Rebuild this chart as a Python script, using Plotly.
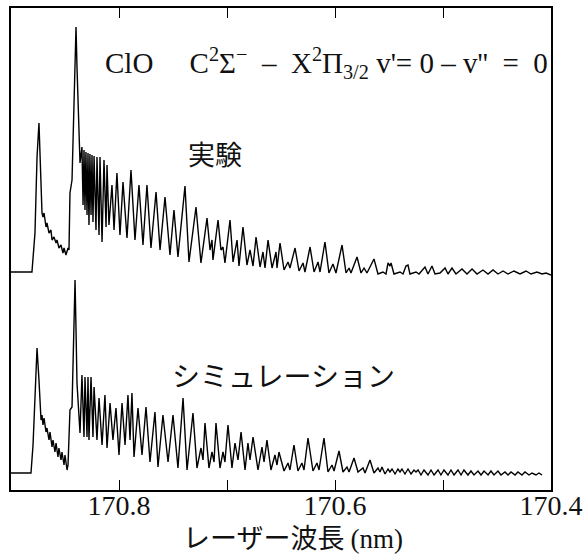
import plotly.graph_objects as go

# ---- Experiment (実験): laser wavelength (nm) and signal (a.u.) ----
exp_wavelength = [
    170.9000, 170.8806, 170.8778, 170.8759, 170.8741, 170.8731, 170.8713, 170.8704, 170.8694, 170.8676,
    170.8667, 170.8648, 170.8630, 170.8620, 170.8602, 170.8583, 170.8574, 170.8556, 170.8537, 170.8519,
    170.8509, 170.8491, 170.8472, 170.8463, 170.8454, 170.8435, 170.8417, 170.8398, 170.8389, 170.8370,
    170.8361, 170.8343, 170.8333, 170.8324, 170.8315, 170.8306, 170.8296, 170.8287, 170.8278, 170.8269,
    170.8259, 170.8250, 170.8241, 170.8231, 170.8213, 170.8204, 170.8185, 170.8176, 170.8157, 170.8139,
    170.8120, 170.8111, 170.8093, 170.8065, 170.8046, 170.8019, 170.7991, 170.7963, 170.7926, 170.7889,
    170.7852, 170.7815, 170.7778, 170.7741, 170.7704, 170.7657, 170.7620, 170.7574, 170.7528, 170.7491,
    170.7454, 170.7389, 170.7352, 170.7287, 170.7241, 170.7185, 170.7157, 170.7139, 170.7130, 170.7083,
    170.7056, 170.7037, 170.7019, 170.6972, 170.6944, 170.6907, 170.6889, 170.6852, 170.6815, 170.6787,
    170.6759, 170.6731, 170.6694, 170.6667, 170.6648, 170.6620, 170.6583, 170.6546, 170.6537, 170.6509,
    170.6472, 170.6435, 170.6417, 170.6370, 170.6333, 170.6296, 170.6278, 170.6231, 170.6194, 170.6157,
    170.6139, 170.6093, 170.6056, 170.6019, 170.5991, 170.5935, 170.5898, 170.5870, 170.5852, 170.5796,
    170.5759, 170.5731, 170.5704, 170.5639, 170.5602, 170.5556, 170.5528, 170.5509, 170.5491, 170.5481,
    170.5454, 170.5398, 170.5370, 170.5343, 170.5324, 170.5306, 170.5250, 170.5222, 170.5167, 170.5139,
    170.5102, 170.5074, 170.5028, 170.4981, 170.4954, 170.4917, 170.4880, 170.4824, 170.4778, 170.4731,
    170.4685, 170.4630, 170.4583, 170.4537, 170.4491, 170.4444, 170.4398, 170.4343, 170.4287, 170.4231,
    170.4185, 170.4130, 170.4083, 170.4046, 170.4019, 170.4000,
]
exp_signal = [
    3, 3, 42, 118, 152, 115, 62, 58, 62, 48,
    52, 42, 45, 35, 38, 32, 35, 27, 30, 22,
    27, 20, 27, 25, 82, 95, 175, 248, 208, 125,
    112, 128, 70, 125, 65, 123, 60, 122, 50, 121,
    60, 120, 53, 119, 45, 118, 40, 118, 33, 115,
    48, 110, 50, 90, 45, 102, 40, 93, 37, 105,
    35, 90, 30, 90, 27, 83, 25, 78, 20, 65,
    18, 89, 13, 68, 12, 57, 25, 35, 15, 55,
    25, 28, 12, 55, 13, 35, 9, 48, 10, 25,
    9, 38, 8, 23, 7, 35, 7, 23, 7, 32,
    5, 13, 7, 27, 4, 12, 3, 28, 3, 13,
    3, 33, 2, 11, 2, 30, 2, 7, 2, 18,
    2, 7, 2, 16, 1, 3, 1, 12, 9, 12,
    1, 3, 1, 9, 10, 1, 3, 1, 8, 1,
    9, 1, 2, 7, 1, 7, 1, 6, 1, 6,
    1, 5, 1, 5, 1, 4, 1, 4, 1, 4,
    1, 3, 1, 2, 1, 0,
]

# ---- Simulation (シミュレーション) ----
sim_wavelength = [
    170.9000, 170.8815, 170.8796, 170.8778, 170.8759, 170.8741, 170.8731, 170.8722, 170.8713, 170.8704,
    170.8694, 170.8676, 170.8667, 170.8648, 170.8639, 170.8620, 170.8611, 170.8593, 170.8583, 170.8565,
    170.8556, 170.8537, 170.8528, 170.8509, 170.8500, 170.8481, 170.8472, 170.8454, 170.8435, 170.8426,
    170.8407, 170.8398, 170.8389, 170.8361, 170.8343, 170.8324, 170.8315, 170.8296, 170.8287, 170.8278,
    170.8259, 170.8241, 170.8231, 170.8204, 170.8185, 170.8157, 170.8130, 170.8111, 170.8083, 170.8056,
    170.8028, 170.8000, 170.7972, 170.7944, 170.7917, 170.7898, 170.7880, 170.7861, 170.7824, 170.7787,
    170.7750, 170.7713, 170.7667, 170.7639, 170.7593, 170.7546, 170.7500, 170.7454, 170.7407, 170.7370,
    170.7315, 170.7278, 170.7241, 170.7222, 170.7204, 170.7167, 170.7139, 170.7120, 170.7102, 170.7065,
    170.7037, 170.7019, 170.6991, 170.6954, 170.6926, 170.6898, 170.6870, 170.6833, 170.6806, 170.6787,
    170.6759, 170.6713, 170.6676, 170.6657, 170.6630, 170.6593, 170.6556, 170.6537, 170.6519, 170.6472,
    170.6435, 170.6417, 170.6380, 170.6343, 170.6306, 170.6287, 170.6250, 170.6204, 170.6167, 170.6148,
    170.6102, 170.6065, 170.6028, 170.6009, 170.5963, 170.5926, 170.5889, 170.5870, 170.5824, 170.5787,
    170.5741, 170.5722, 170.5676, 170.5639, 170.5602, 170.5583, 170.5565, 170.5537, 170.5509, 170.5491,
    170.5472, 170.5444, 170.5417, 170.5398, 170.5380, 170.5352, 170.5324, 170.5296, 170.5269, 170.5250,
    170.5231, 170.5204, 170.5176, 170.5139, 170.5111, 170.5083, 170.5046, 170.5019, 170.4991, 170.4954,
    170.4926, 170.4898, 170.4861, 170.4833, 170.4806, 170.4769, 170.4741, 170.4713, 170.4676, 170.4648,
    170.4620, 170.4583, 170.4556, 170.4528, 170.4491, 170.4463, 170.4426, 170.4398, 170.4370, 170.4333,
    170.4306, 170.4269, 170.4241, 170.4204, 170.4176, 170.4139, 170.4111, 170.4083,
]
sim_signal = [
    3, 3, 31, 76, 128, 96, 69, 56, 61, 51,
    58, 44, 48, 36, 44, 29, 36, 24, 33, 19,
    28, 16, 24, 11, 21, 6, 11, 66, 69, 116,
    196, 146, 93, 43, 101, 39, 99, 39, 99, 36,
    99, 39, 89, 36, 78, 31, 81, 28, 73, 36,
    68, 21, 73, 31, 81, 36, 83, 19, 68, 21,
    69, 14, 64, 9, 61, 14, 61, 8, 78, 6,
    63, 8, 28, 16, 53, 8, 24, 14, 53, 8,
    24, 14, 51, 8, 33, 16, 44, 6, 33, 16,
    39, 6, 29, 14, 36, 6, 21, 11, 24, 5,
    13, 6, 31, 5, 13, 6, 38, 5, 13, 6,
    38, 4, 11, 5, 25, 4, 9, 4, 18, 4,
    8, 3, 16, 3, 8, 4, 9, 2, 7, 4,
    7, 2, 7, 4, 7, 2, 7, 2, 6, 4,
    6, 1, 6, 1, 6, 1, 6, 1, 6, 1,
    6, 1, 6, 1, 6, 1, 5, 1, 5, 1,
    5, 1, 5, 1, 5, 1, 4, 1, 4, 1,
    4, 1, 4, 1, 3, 1, 3, 1,
]

tick_values = [170.8, 170.7, 170.6, 170.5, 170.4]
tick_labels = ["170.8", "", "170.6", "", "170.4"]

SERIF = "Liberation Serif, Times New Roman, serif"
CJK = "Noto Sans CJK JP, sans-serif"

fig = go.Figure()
fig.add_trace(go.Scatter(x=sim_wavelength, y=sim_signal, mode="lines",
                         line=dict(color="black", width=1.4), yaxis="y", showlegend=False))
fig.add_trace(go.Scatter(x=exp_wavelength, y=exp_signal, mode="lines",
                         line=dict(color="black", width=1.4), yaxis="y2", showlegend=False))

W, H = 584, 555
L, R, T, B = 11, 33, 8, 65

fig.update_layout(
    width=W, height=H,
    margin=dict(l=L, r=R, t=T, b=B, autoexpand=False),
    paper_bgcolor="white", plot_bgcolor="white",
    xaxis=dict(range=[170.9, 170.4], tickvals=tick_values, ticktext=tick_labels,
               ticks="inside", ticklen=10, tickwidth=1.4, tickcolor="black",
               showline=True, linecolor="black", linewidth=1.5, mirror="ticks",
               showgrid=False, zeroline=False, automargin=False,
               ticklabelstandoff=-10,
               tickfont=dict(family=SERIF, size=28, color="#111")),
    yaxis=dict(range=[-14, 468], showline=True, linecolor="black", linewidth=1.5, mirror=True,
               showticklabels=False, ticks="", showgrid=False, zeroline=False,
               fixedrange=True, automargin=False),
    yaxis2=dict(range=[-215, 267], overlaying="y", visible=False, fixedrange=True),
    font=dict(color="#111"),
)

NB = "\u00a0"
annotations = [
    dict(text="ClO" + NB * 5 + "C<sup>2</sup>Σ<sup>−</sup>" + NB * 2 + "–" + NB * 2
              + "X<sup>2</sup>Π<sub>3/2</sub> v'= 0 – v''" + NB * 2 + "=" + NB * 2 + "0",
         x=0.170, y=0.886, xanchor="left", yanchor="middle",
         font=dict(family=SERIF, size=29)),
    dict(text="実験", x=0.378, y=0.699, xanchor="center", yanchor="middle",
         font=dict(family=CJK, size=27)),
    dict(text="シミュレーション", x=0.504, y=0.239, xanchor="center", yanchor="middle",
         font=dict(family=CJK, size=28)),
    dict(text="レーザー波長 <span style=\"font-family:Liberation Serif\">(nm)</span>",
         x=0.522, y=-0.097, xanchor="center", yanchor="middle",
         font=dict(family=CJK, size=27)),
]
for a in annotations:
    a.update(xref="paper", yref="paper", showarrow=False)
fig.update_layout(annotations=annotations)

fig.write_html("out.html", config={"displayModeBar": False},
               post_script="document.body.style.margin='0px';")
